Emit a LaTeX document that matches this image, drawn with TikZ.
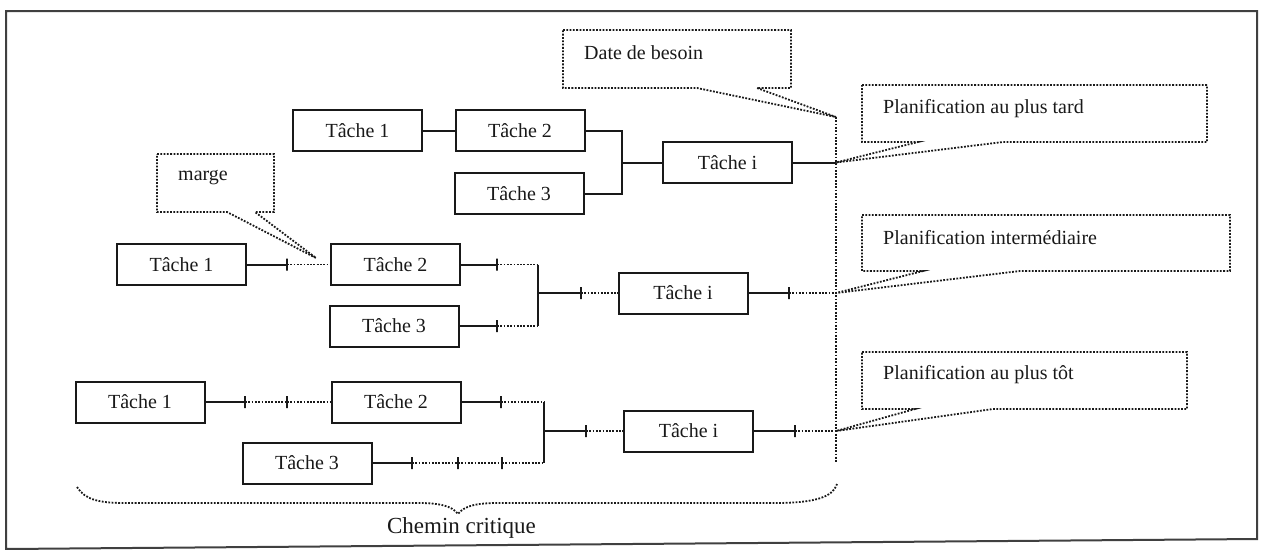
\documentclass[tikz,border=0pt]{standalone}
\usepackage{fontspec}
\setmainfont{Liberation Serif}
\usetikzlibrary{arrows.meta}
\begin{document}
\begin{tikzpicture}[x=1pt,y=-1pt,
  task/.style={draw=black!90,line width=2pt,minimum width=129pt,minimum height=41pt,inner sep=0pt,outer sep=0pt,text=black!90,font=\fontsize{20}{24}\selectfont},
  tick/.style={draw=black!90,line width=2pt,minimum width=0pt,minimum height=12pt,inner sep=0pt,outer sep=0pt,shape=rectangle},
  solidln/.style={line width=2pt,draw=black!90},
  dotln/.style={line width=1.8pt,draw=black!90,dash pattern=on 1.8pt off 1.5pt},
  lbl/.style={anchor=west,inner sep=0pt,text=black!90,font=\fontsize{20}{24}\selectfont}]
\useasboundingbox (0,0) rectangle (1268,549);
% frame
\draw[line width=2pt,black!75] (6,11) -- (1257,11) -- (1257,539) -- (6,549) -- cycle;

% ---------- top row (plus tard) ----------
\node[task] (T1) at (357.5,130.5) {Tâche 1};
\node[task] (T2) at (520,130.5) {Tâche 2};
\node[task] (T3) at (519,193.5) {Tâche 3};
\node[task] (Ti) at (727.5,162.5) {Tâche i};
\coordinate (Jt) at (622,162.5);
\coordinate (tipA) at (836,162.5);
\draw[solidln] (T1) -- (T2);
\draw[solidln] (T2.east) -| (Jt) |- (T3.east);
\draw[solidln] (Jt) -- (Ti.west);
\draw[solidln] (Ti.east) -- (tipA);

% ---------- middle row (intermédiaire) ----------
\node[task] (M1) at (181.5,264.5) {Tâche 1};
\node[task] (M2) at (395.5,264.5) {Tâche 2};
\node[task] (M3) at (394,326) {Tâche 3};
\node[task] (Mi) at (683,293) {Tâche i};
\node[tick] (m1a) at (287,264.5) {};
\node[tick] (m2a) at (497,264.5) {};
\node[tick] (m3a) at (497,326) {};
\node[tick] (mja) at (581,293) {};
\node[tick] (mia) at (789,293) {};
\coordinate (Jm2) at (538,264.5);
\coordinate (Jm3) at (538,326);
\coordinate (Jm) at (538,293);
\coordinate (tipB) at (836,293);
\draw[solidln] (M1.east) -- (m1a);
\draw[dotln] (m1a) -- (M2.west);
\draw[solidln] (M2.east) -- (m2a);
\draw[dotln] (m2a) -- (Jm2);
\draw[solidln] (M3.east) -- (m3a);
\draw[dotln] (m3a) -- (Jm3);
\draw[solidln] (Jm2) -- (Jm3);
\draw[solidln] (Jm) -- (mja);
\draw[dotln] (mja) -- (Mi.west);
\draw[solidln] (Mi.east) -- (mia);
\draw[dotln] (mia) -- (tipB);

% ---------- bottom row (plus tôt) ----------
\node[task] (B1) at (140,402) {Tâche 1};
\node[task] (B2) at (396,402) {Tâche 2};
\node[task] (B3) at (307,463) {Tâche 3};
\node[task] (Bi) at (688.5,431) {Tâche i};
\node[tick] (b1a) at (245,402) {};
\node[tick] (b1b) at (287,402) {};
\node[tick] (b2a) at (501,402) {};
\node[tick] (b3a) at (412,463) {};
\node[tick] (b3b) at (458,463) {};
\node[tick] (b3c) at (502,463) {};
\node[tick] (bja) at (586,431) {};
\node[tick] (bia) at (795,431) {};
\coordinate (Jb2) at (544,402);
\coordinate (Jb3) at (544,463);
\coordinate (Jb) at (544,431);
\coordinate (tipC) at (836,431);
\draw[solidln] (B1.east) -- (b1a);
\draw[dotln] (b1a) -- (b1b);
\draw[dotln] (b1b) -- (B2.west);
\draw[solidln] (B2.east) -- (b2a);
\draw[dotln] (b2a) -- (Jb2);
\draw[solidln] (B3.east) -- (b3a);
\draw[dotln] (b3a) -- (b3b);
\draw[dotln] (b3b) -- (b3c);
\draw[dotln] (b3c) -- (Jb3);
\draw[solidln] (Jb2) -- (Jb3);
\draw[solidln] (Jb) -- (bja);
\draw[dotln] (bja) -- (Bi.west);
\draw[solidln] (Bi.east) -- (bia);
\draw[dotln] (bia) -- (tipC);

% ---------- date de besoin line ----------
\coordinate (vtop) at (836,117);
\coordinate (vbot) at (836,463);
\draw[dotln] (vtop) -- (vbot);

% ---------- callouts ----------
\draw[dotln] (563,30) -- (791,30) -- (791,88) -- (757,88) -- (vtop) -- (697,88) -- (563,88) -- cycle;
\node[lbl] (datel) at (584,53) {Date de besoin};

\coordinate (tipM) at (316,258);
\draw[dotln] (157,154) -- (274,154) -- (274,212) -- (255,212) -- (tipM) -- (227,212) -- (157,212) -- cycle;
\node[lbl] (margel) at (178,178) {marge};

\draw[dotln] (862,85) -- (1207,85) -- (1207,142) -- (1003,142) -- (tipA) -- (918,142) -- (862,142) -- cycle;
\node[lbl] (tardl) at (883,109) {Planification au plus tard};

\draw[dotln] (862,215) -- (1230,215) -- (1230,271) -- (1020,271) -- (tipB) -- (923,271) -- (862,271) -- cycle;
\node[lbl] (interl) at (883,238) {Planification intermédiaire};

\draw[dotln] (862,352) -- (1187,352) -- (1187,409) -- (993,409) -- (tipC) -- (915,409) -- (862,409) -- cycle;
\node[lbl] (totl) at (883,375) {Planification au plus tôt};

% ---------- brace ----------
\draw[dotln] (77,487) .. controls (85,500) and (100,503) .. (125,503) -- (418,503)
  .. controls (440,503) and (452,506) .. (458,514)
  .. controls (464,506) and (476,503) .. (498,503) -- (775,503)
  .. controls (815,503) and (833,497) .. (837,484);
\node[anchor=base,inner sep=0pt,text=black!90,font=\fontsize{23}{27}\selectfont] (cheml) at (461.5,533) {Chemin critique};
\end{tikzpicture}
\end{document}
